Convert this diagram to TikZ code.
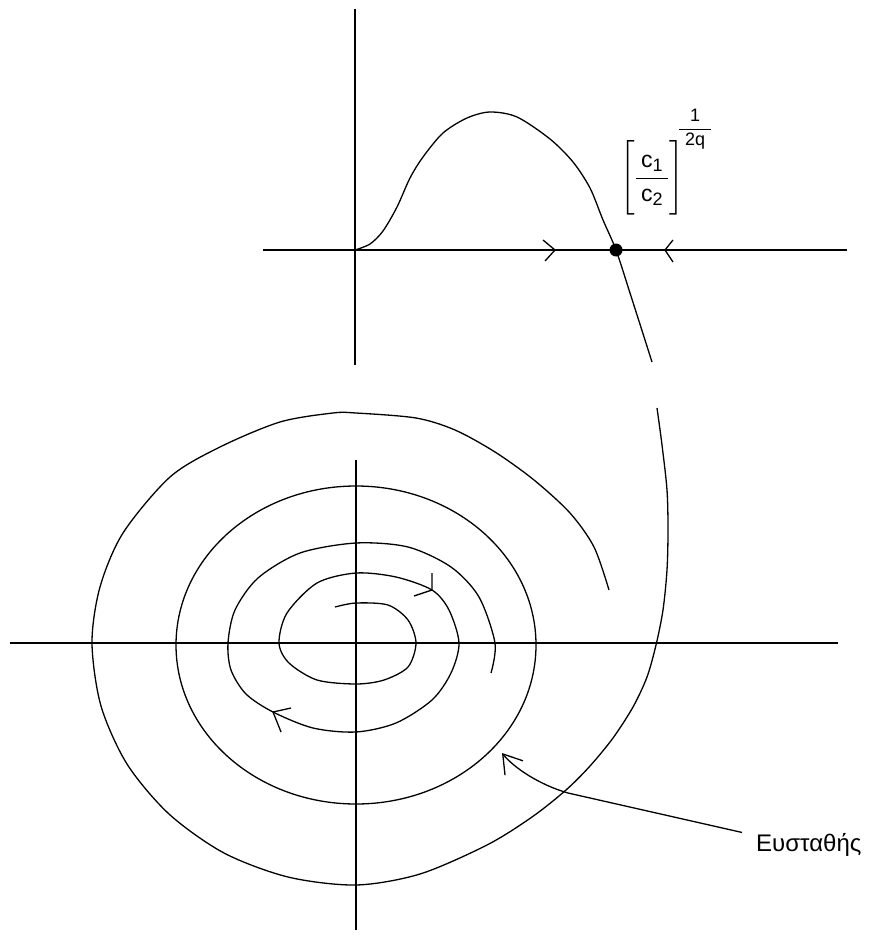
\documentclass[tikz,border=0pt]{standalone}
\usepackage{amsmath}
\usepackage{fontspec}
\setmainfont{Liberation Sans}
\usetikzlibrary{arrows.meta}
\DeclareMathSizes{23}{23}{18}{14}
\DeclareMathSizes{18}{18}{14}{10}

\tikzset{
  axis/.style={line width=1.9pt},
  orbit/.style={line width=1.3pt, line join=round},
  eqdot/.style={circle, fill=black, inner sep=0pt, minimum size=13pt},
}

\begin{document}
\begin{tikzpicture}[x=1pt, y=-1pt]
    \useasboundingbox (0,0) rectangle (873,936);
    % upper graph
    \draw[axis] (263,250) -- (847,250);
    \draw[axis] (355,9) -- (355,365);
    \draw[orbit] plot[smooth] coordinates {(355,250) (370,244) (383,231) (397,207) (410,178) (423,157) (443,133) (467,118) (490,112) (517,117) (550,139) (573,162) (590,188) (603,220) (616,250) (630,293) (652,362)};
    \node[eqdot] (eq) at (616,250) {};
    \draw[orbit] (543,240) -- (555,250) -- (545,261);
    \draw[orbit] (673,240) -- (665,250) -- (673,262);
    \node[font=\fontsize{23}{27}\selectfont, inner sep=0pt] (ratio) at (652,178)
        {$\left[\vphantom{\rule[-30pt]{0pt}{72pt}}\dfrac{\mathrm{c}_{\mathrm{1}}}{\hspace{5pt}\mathrm{c}_{\mathrm{2}}\hspace{5pt}}\right]$};
    \node[font=\fontsize{18}{22}\selectfont, inner sep=0pt] (expo) at (695,129)
        {$\dfrac{\mathrm{1}}{\hspace{6pt}\mathrm{2q}\hspace{6pt}}$};
    % lower phase plane
    \draw[axis] (10,643) -- (838,643);
    \draw[axis] (356,460) -- (356,930);
    \draw[orbit] (356,645) ellipse [x radius=180pt, y radius=159pt];
    \draw[orbit] plot[smooth] coordinates {(335,607) (356,603) (388,605) (408,620) (416,643) (408,667) (384,680) (356,684) (317,680) (289,663) (279,643) (287,613) (317,583) (356,573) (396,577) (432,590) (449,610) (459,643) (451,673) (432,700) (396,723) (356,732) (313,728) (273,712) (246,694) (231,670) (228,643) (235,610) (258,578) (300,553) (356,543) (408,547) (451,567) (479,597) (495,643) (491,673)};
    \draw[orbit] (432,573) -- (432,590) -- (414,596);
    \draw[orbit] (291,708) -- (273,712) -- (281,732);
    \draw[orbit] plot[smooth] coordinates {(657,408) (662,445) (667,490) (668,530) (667,570) (663,610) (656,645) (647,677) (633,707) (613,738) (590,766) (566,790) (532,817) (487,845) (420,874) (356,885) (288,877) (224,853) (169,814) (127,764) (101,706) (92,643) (100,587) (123,533) (170,477) (220,447) (280,422) (333,413) (356,413) (416,418) (455,430) (495,452) (534,480) (570,513) (594,547) (609,590)};
    % label
    \node[font=\fontsize{24}{28}\selectfont, anchor=base west, inner sep=0pt] (stab) at (756,851) {Ευσταθής};
    \coordinate (cyc) at (502,753);
    \draw[orbit, -{Straight Barb[length=18pt, width=23pt]}] ([xshift=-14pt, yshift=12pt]stab.west) -- (568,793) .. controls (540,785) and (514,768) .. (cyc);
\end{tikzpicture}
\end{document}
